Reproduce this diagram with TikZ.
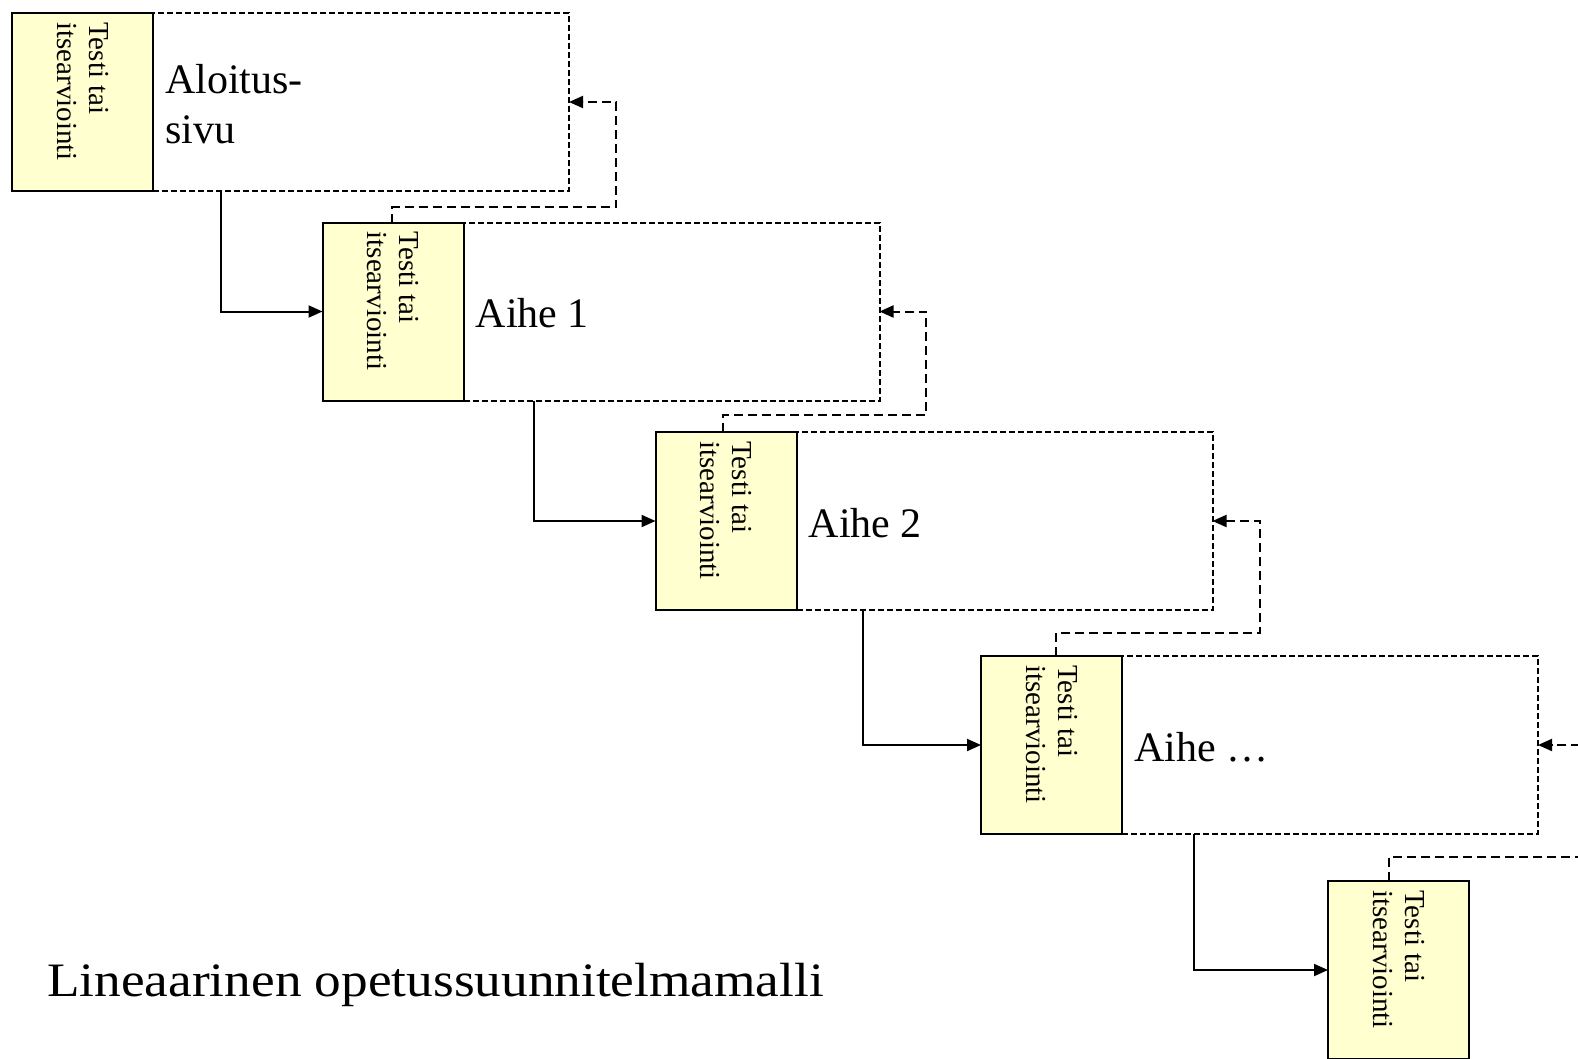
\documentclass[tikz,border=0pt]{standalone}
\usepackage{fontspec}
\setmainfont{Liberation Serif}
\newfontfamily\titlefont[FakeStretch=1.11]{Liberation Serif}
\usetikzlibrary{arrows.meta}
\definecolor{testyellow}{RGB}{255,255,208}
\tikzset{
  pagebox/.style={draw, line width=2pt, dash pattern=on 6pt off 3pt, inner sep=0pt, outer sep=0pt,
    minimum width=416pt, minimum height=178pt, anchor=west},
  testbox/.style={draw, line width=2pt, fill=testyellow, inner sep=0pt, outer sep=0pt,
    minimum width=141pt, minimum height=178pt},
  testlabel/.style={rotate=-90, anchor=west, align=left, inner sep=0pt,
    font=\fontsize{29}{32}\selectfont},
  biglabel/.style={anchor=west, align=left, inner sep=0pt, xshift=12pt,
    font=\fontsize{42}{50}\selectfont},
  tip/.style={-{Triangle[length=14pt,width=12pt]}},
  flow/.style={line width=2pt, tip},
  fback/.style={line width=2pt, dash pattern=on 9pt off 5pt, tip},
  fline/.style={line width=2pt, dash pattern=on 9pt off 5pt}
}
\begin{document}
\begin{tikzpicture}[x=1pt, y=-1pt]
\clip (0,0) rectangle (1578,1058);
\fill[white] (0,0) rectangle (1578,1058);

% test boxes
\node[testbox] (test1) at (82.5,102) {};
\node[testbox] (test2) at (393,311.5) {};
\node[testbox] (test3) at (726,521) {};
\node[testbox] (test4) at (1051.5,745) {};
\node[testbox] (test5) at (1398.5,970) {};

% pages (dashed frames to the right of the test boxes)
\node[pagebox] (page1) at (test1.east) {};
\node[pagebox] (page2) at (test2.east) {};
\node[pagebox] (page3) at (test3.east) {};
\node[pagebox] (page4) at (test4.east) {};
% solid edge shared with the test box, redrawn on top
\foreach \t in {1,...,4}{
  \draw[line width=2pt] (test\t.north east) -- (test\t.south east);
}

\foreach \t in {1,...,5}{
  \node[testlabel] (lab\t) at ([yshift=-9pt]test\t.north) {Testi tai\\itsearviointi};
}

% big labels
\node[biglabel] (l1) at ([yshift=-2pt]test1.east) {Aloitus-\\sivu};
\node[biglabel] (l2) at ([yshift=-2pt]test2.east) {Aihe 1};
\node[biglabel] (l3) at ([yshift=-2pt]test3.east) {Aihe 2};
\node[biglabel] (l4) at ([yshift=-2pt]test4.east) {Aihe \dots};

% title
\node[anchor=base west, inner sep=0pt, font=\titlefont\fontsize{48}{56}\selectfont] (title) at (47,996) {Lineaarinen opetussuunnitelmamalli};

% solid forward connectors
\coordinate (s1) at (221,191);
\coordinate (s2) at (534,400.5);
\coordinate (s3) at (863,610);
\coordinate (s4) at (1194,834);
\draw[flow] (s1) |- (test2.west);
\draw[flow] (s2) |- (test3.west);
\draw[flow] (s3) |- (test4.west);
\draw[flow] (s4) |- (test5.west);

% dashed feedback connectors
\coordinate (f2) at (392,222.5);
\coordinate (c2) at (616,207);
\coordinate (f3) at (723,432);
\coordinate (c3) at (926,415);
\coordinate (f4) at (1056,656);
\coordinate (c4) at (1260,633);
\coordinate (e4) at (1580,745);
\coordinate (f5) at (1389,881);
\coordinate (e5) at (1580,857);
\draw[fback] (f2) |- (c2) |- (page1.east);
\draw[fback] (f3) |- (c3) |- (page2.east);
\draw[fback] (f4) |- (c4) |- (page3.east);
\draw[fback] (e4) -- (page4.east);
\draw[fline] (f5) |- (e5);
\end{tikzpicture}
\end{document}
